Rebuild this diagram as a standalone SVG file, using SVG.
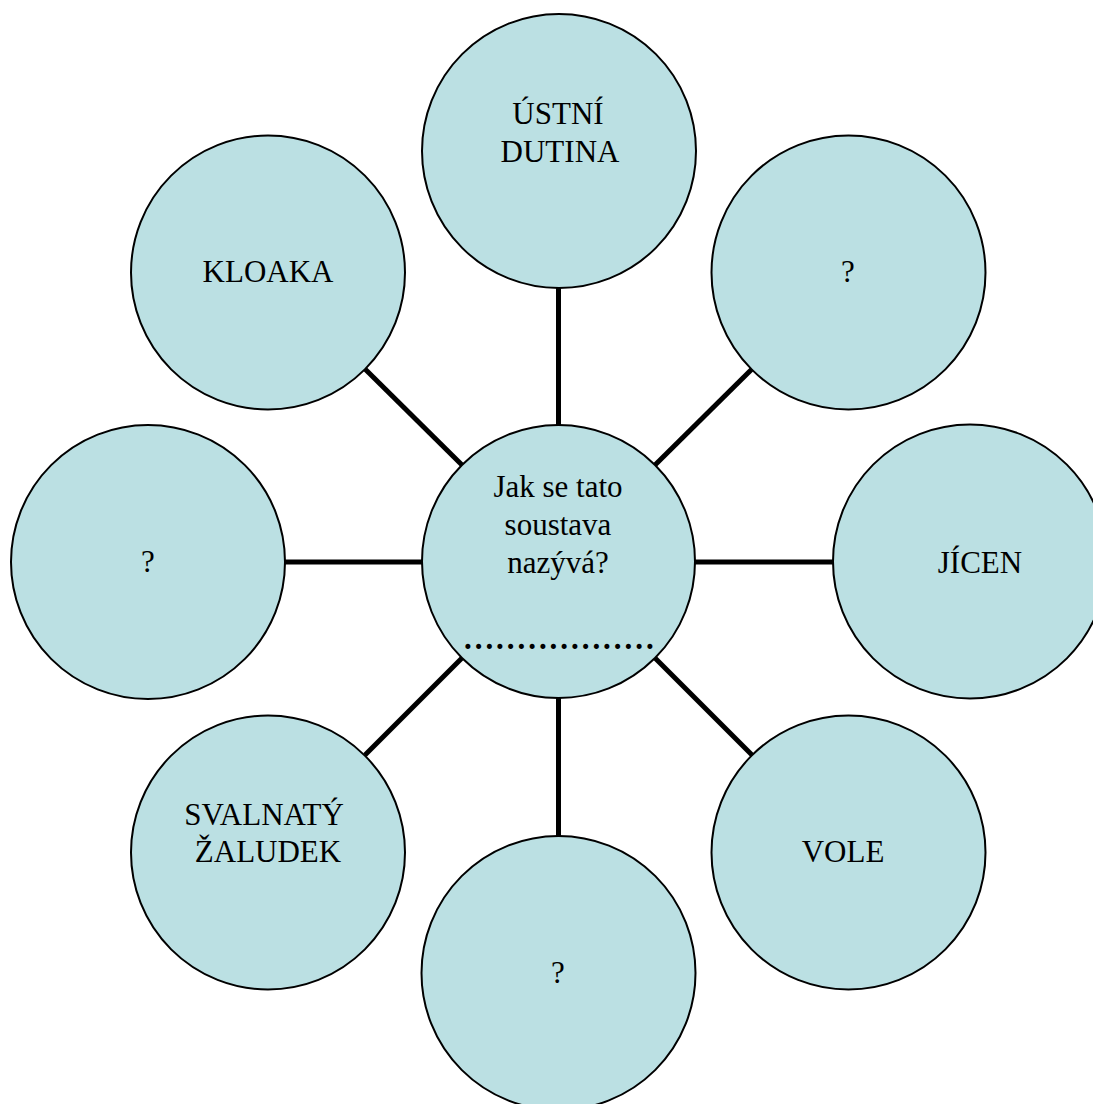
<svg xmlns="http://www.w3.org/2000/svg" width="1093" height="1104" viewBox="0 0 1093 1104">
<style>
.n{fill:#bbe0e3;stroke:#000;stroke-width:2}
.t{font-family:'Liberation Serif','Times New Roman',serif;font-size:31px;fill:#000;text-anchor:middle}
.c{stroke:#000;stroke-width:5;fill:none}
</style>
<rect width="1093" height="1104" fill="#fff"/>
<g id="connectors">
<line class="c" x1="558.5" y1="287" x2="558.5" y2="425"/>
<line class="c" x1="558.5" y1="698" x2="558.5" y2="836"/>
<line class="c" x1="285" y1="562" x2="422" y2="562"/>
<line class="c" x1="695" y1="562" x2="833" y2="562"/>
<line class="c" x1="365" y1="369" x2="462" y2="465"/>
<line class="c" x1="752" y1="369" x2="655" y2="465"/>
<line class="c" x1="462" y1="658" x2="365" y2="755"/>
<line class="c" x1="655" y1="658" x2="752" y2="755"/>
</g>
<g id="center">
<circle class="n" cx="558.5" cy="561.5" r="136.5"/>
<text class="t" x="558" y="497" font-family="Liberation Serif, serif">Jak se tato</text>
<text class="t" x="558" y="535" font-family="Liberation Serif, serif">soustava</text>
<text class="t" x="558" y="573" font-family="Liberation Serif, serif">nazývá?</text>
<text x="464" y="649" font-family="Liberation Serif, serif" font-size="31" font-weight="bold" letter-spacing="2.95">..................</text>
</g>
<g id="n-ustni">
<circle class="n" cx="559" cy="151" r="137"/>
<text class="t" x="558" y="124">ÚSTNÍ</text>
<text class="t" x="560" y="162">DUTINA</text>
</g>
<g id="n-q1">
<circle class="n" cx="848.5" cy="272.5" r="137"/>
<text class="t" x="848" y="282">?</text>
</g>
<g id="n-jicen">
<circle class="n" cx="970" cy="561.5" r="137"/>
<text class="t" x="980" y="573">JÍCEN</text>
</g>
<g id="n-vole">
<circle class="n" cx="848.5" cy="852.5" r="137"/>
<text class="t" x="843" y="862">VOLE</text>
</g>
<g id="n-q2">
<circle class="n" cx="558.5" cy="973" r="137"/>
<text class="t" x="558" y="983">?</text>
</g>
<g id="n-zaludek">
<circle class="n" cx="268" cy="852.5" r="137"/>
<text class="t" x="264" y="825">SVALNATÝ</text>
<text class="t" x="268" y="862">ŽALUDEK</text>
</g>
<g id="n-q3">
<circle class="n" cx="148" cy="562" r="137"/>
<text class="t" x="148" y="572">?</text>
</g>
<g id="n-kloaka">
<circle class="n" cx="268" cy="272.5" r="137"/>
<text class="t" x="268" y="282">KLOAKA</text>
</g>
</svg>
